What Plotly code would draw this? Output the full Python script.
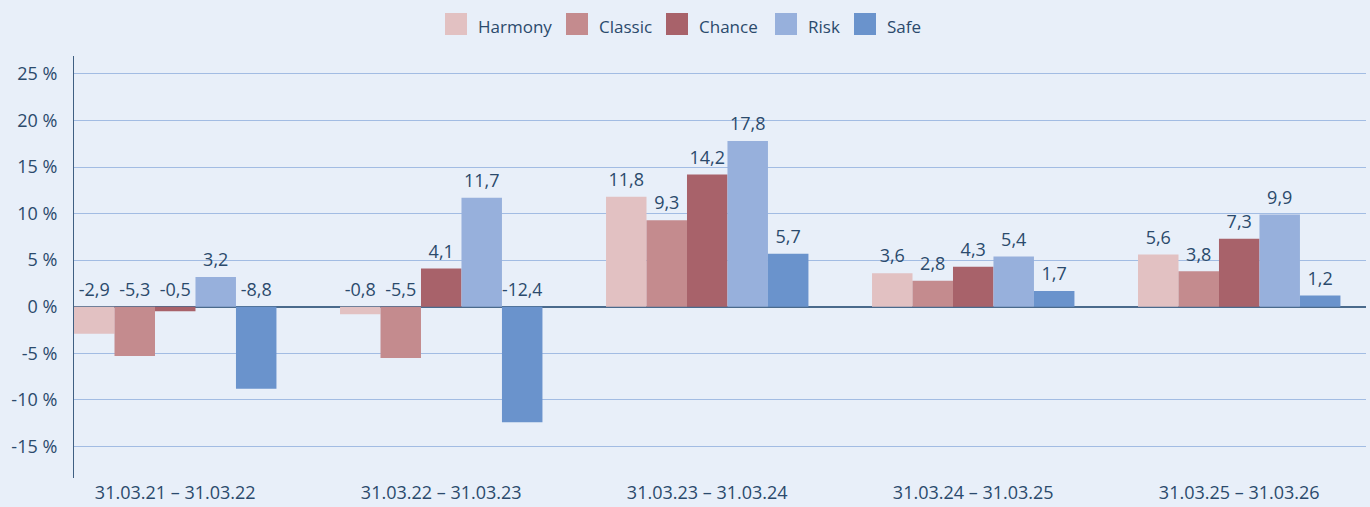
import plotly.graph_objects as go

periods = ["31.03.21 – 31.03.22", "31.03.22 – 31.03.23", "31.03.23 – 31.03.24",
           "31.03.24 – 31.03.25", "31.03.25 – 31.03.26"]
series_names = ["Harmony", "Classic", "Chance", "Risk", "Safe"]
harmony = [-2.9, -0.8, 11.8, 3.6, 5.6]
classic = [-5.3, -5.5, 9.3, 2.8, 3.8]
chance = [-0.5, 4.1, 14.2, 4.3, 7.3]
risk = [3.2, 11.7, 17.8, 5.4, 9.9]
safe = [-8.8, -12.4, 5.7, 1.7, 1.2]
colors = ["#e2c1c2", "#c48b8e", "#a8626a", "#97b0dc", "#6a93cc"]
ytick_vals = [-15, -10, -5, 0, 5, 10, 15, 20, 25]
ytick_text = ["-15 %", "-10 %", "-5 %", "0 %", "5 %", "10 %", "15 %", "20 %", "25 %"]

TEXT = "#2b4a6c"
BG = "#e8eff9"
FONT = "Open Sans"
data = [harmony, classic, chance, risk, safe]
xs = list(range(len(periods)))

# plot area geometry (px)
L, R, T, B = 74, 4, 56, 29
W, H = 1370, 507
PW, PH = W - L - R, H - T - B

fig = go.Figure()
for name, vals, col in zip(series_names, data, colors):
    fig.add_trace(go.Bar(
        x=xs, y=vals, name=name, marker=dict(color=col, line=dict(width=0)),
        offsetgroup=name, showlegend=False, hoverinfo="skip"))
    # transparent label carrier: labels sit above the bar top (or above 0 for negatives)
    fig.add_trace(go.Bar(
        x=xs, y=[max(v, 0) + 0.3 for v in vals], offsetgroup=name,
        marker=dict(color="rgba(0,0,0,0)", line=dict(width=0)),
        text=[f"{v:.1f}".replace(".", ",") for v in vals],
        textposition="outside", cliponaxis=False,
        textfont=dict(family=FONT, size=18, color=TEXT),
        showlegend=False, hoverinfo="skip"))

# custom legend with large square swatches
legend_px = [445, 566, 666, 775, 854]
shapes = []
annotations = []
for name, col, px in zip(series_names, colors, legend_px):
    shapes.append(dict(type="rect", xref="paper", yref="paper",
                       x0=(px - L) / PW, x1=(px + 22 - L) / PW,
                       y0=(H - B - 35) / PH, y1=(H - B - 13) / PH,
                       fillcolor=col, line=dict(width=0), layer="above"))
    annotations.append(dict(xref="paper", yref="paper", x=(px + 31 - L) / PW,
                            y=(H - B - 26) / PH, xanchor="left", yanchor="middle",
                            text=name, showarrow=False,
                            font=dict(family=FONT, size=17, color=TEXT)))

fig.update_layout(
    width=W, height=H,
    paper_bgcolor=BG, plot_bgcolor=BG,
    margin=dict(l=L, r=R, t=T, b=B),
    barmode="group", bargap=0.239, bargroupgap=0,
    font=dict(family=FONT, size=18, color=TEXT),
    showlegend=False,
    shapes=shapes, annotations=annotations,
    xaxis=dict(range=[-0.3806, 4.4766], tickvals=xs, ticktext=periods,
               showgrid=False, zeroline=False, showline=False, ticks="",
               ticklabelstandoff=2,
               tickfont=dict(family=FONT, size=18, color=TEXT), fixedrange=True),
    yaxis=dict(range=[-18.4, 26.93], tickvals=ytick_vals, ticktext=ytick_text,
               showgrid=True, gridcolor="#a2bce3", gridwidth=1,
               zeroline=True, zerolinecolor="#4a6a8c", zerolinewidth=2,
               showline=True, linecolor="#3f5f82", linewidth=1.2,
               ticks="", ticklabelstandoff=12,
               tickfont=dict(family=FONT, size=18, color=TEXT)),
)

fig.write_html("out.html", config={"displayModeBar": False},
               post_script="document.body.style.margin='0';"
                           "document.body.style.background='" + BG + "';")
